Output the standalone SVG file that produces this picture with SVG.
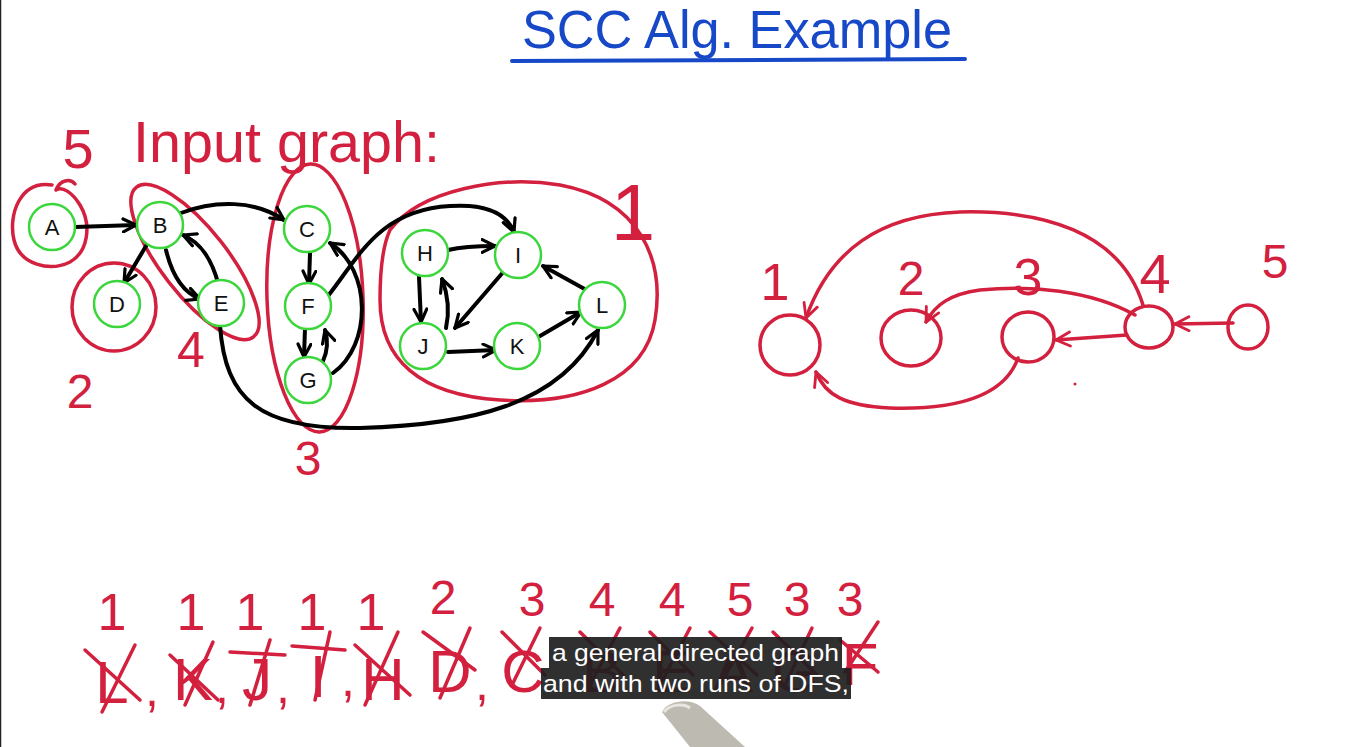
<svg xmlns="http://www.w3.org/2000/svg" width="1357" height="747" viewBox="0 0 1357 747">
<style>
.nd{fill:#fff;stroke:#3bd63b;stroke-width:2.5}
.lb{font-family:"Liberation Sans",Arial,sans-serif;font-size:22px;fill:#111;text-anchor:middle;dominant-baseline:central}
.e{fill:none;stroke:#000;stroke-width:4;stroke-linecap:round;stroke-linejoin:round}
.r{fill:none;stroke:#d3203e;stroke-width:3.5;stroke-linecap:round;stroke-linejoin:round}
.rt{font-family:"Liberation Sans",Arial,sans-serif;fill:#d3203e;text-anchor:middle}
.rs{font-family:"Liberation Sans",Arial,sans-serif;fill:#d3203e;text-anchor:start}
.x{stroke:#d3203e;stroke-width:3.5;stroke-linecap:round}
.sub{font-family:"Liberation Sans",Arial,sans-serif;font-size:24px;fill:#fff}
</style>
<defs>
<marker id="ab" viewBox="0 0 10 10" refX="9" refY="5" markerWidth="4" markerHeight="4" orient="auto" markerUnits="strokeWidth">
<path d="M1,1 L9,5 L1,9" fill="none" stroke="#000" stroke-width="2" stroke-linecap="round" stroke-linejoin="round"/>
</marker>
<marker id="ar" viewBox="0 0 10 10" refX="9" refY="5" markerWidth="5" markerHeight="5" orient="auto" markerUnits="strokeWidth">
<path d="M1,1 L9,5 L1,9" fill="none" stroke="#d3203e" stroke-width="1.6" stroke-linecap="round" stroke-linejoin="round"/>
</marker>
</defs>
<rect width="1357" height="747" fill="#fff"/>
<line x1="0.5" y1="0" x2="0.5" y2="747" stroke="#222" stroke-width="1.5"/>

<!-- title -->
<g id="title">
<text x="522" y="48" font-family="Liberation Sans,Arial,sans-serif" font-size="54" fill="#1748c8" textLength="430" lengthAdjust="spacingAndGlyphs">SCC Alg. Example</text>
<line x1="512" y1="61" x2="965" y2="59" stroke="#1748c8" stroke-width="4" stroke-linecap="round"/>
</g>

<g id="labels-left">
<text class="rt" x="78" y="168" font-size="56">5</text>
<text class="rs" x="133" y="162" font-size="58" textLength="307" lengthAdjust="spacingAndGlyphs">Input graph:</text>
<text class="rt" x="633" y="240" font-size="80">1</text>
<text class="rt" x="191" y="367" font-size="50">4</text>
<text class="rt" x="80" y="408" font-size="48">2</text>
<text class="rt" x="308" y="475" font-size="48">3</text>
</g>

<!-- SCC outlines -->
<g id="scc-outlines">
<path class="r" d="M52,185 C20,180 8,215 14,240 C20,265 50,272 70,262 C88,252 92,225 80,205 C72,192 62,186 56,190 C60,180 70,178 75,184"/>
<ellipse class="r" cx="114" cy="307" rx="42" ry="44"/>
<ellipse class="r" cx="195" cy="262" rx="95" ry="33" transform="rotate(52 195 262)"/>
<ellipse class="r" cx="315" cy="298" rx="48" ry="134" transform="rotate(-2 315 298)"/>
<path class="r" d="M390,230 C420,190 500,175 560,185 C640,200 665,260 655,320 C645,380 580,405 500,400 C420,395 380,360 380,300 C380,270 383,245 390,230"/>
</g>

<!-- connectors -->
<g id="connectors">
<path class="e" d="M75,227 L136,225" marker-end="url(#ab)"/>
<path class="e" d="M181,213 C215,200 255,200 284,220" marker-end="url(#ab)"/>
<path class="e" d="M146,246 L124,283" marker-end="url(#ab)"/>
<path class="e" d="M166,250 C172,275 182,292 200,299" marker-end="url(#ab)"/>
<path class="e" d="M218,283 C212,260 200,242 183,235" marker-end="url(#ab)"/>
<path class="e" d="M310,253 L309,284" marker-end="url(#ab)"/>
<path class="e" d="M305,328 L304,357" marker-end="url(#ab)"/>
<path class="e" d="M323,361 C328,350 328,340 325,330" marker-end="url(#ab)"/>
<path class="e" d="M333,373 C372,345 372,270 330,243" marker-end="url(#ab)"/>
<path class="e" d="M328,296 C360,255 380,210 450,206 C480,204 505,210 514,232" marker-end="url(#ab)"/>
<path class="e" d="M220,325 C225,400 260,430 360,428 C470,425 560,405 598,330" marker-end="url(#ab)"/>
<path class="e" d="M448,250 C465,246 480,246 495,246" marker-end="url(#ab)"/>
<path class="e" d="M419,277 L421,322" marker-end="url(#ab)"/>
<path class="e" d="M446,328 C450,310 448,295 442,279" marker-end="url(#ab)"/>
<path class="e" d="M505,270 L455,328" marker-end="url(#ab)"/>
<path class="e" d="M448,352 L496,350" marker-end="url(#ab)"/>
<path class="e" d="M540,336 L581,312" marker-end="url(#ab)"/>
<path class="e" d="M590,292 L543,266" marker-end="url(#ab)"/>
</g>

<!-- nodes -->
<g id="node-A"><circle class="nd" cx="52" cy="227" r="23"/><text class="lb" x="52" y="227">A</text></g>
<g id="node-B"><circle class="nd" cx="160" cy="225" r="23"/><text class="lb" x="160" y="225">B</text></g>
<g id="node-C"><circle class="nd" cx="307" cy="229" r="23"/><text class="lb" x="307" y="229">C</text></g>
<g id="node-D"><circle class="nd" cx="117" cy="304" r="23"/><text class="lb" x="117" y="304">D</text></g>
<g id="node-E"><circle class="nd" cx="221" cy="303" r="23"/><text class="lb" x="221" y="303">E</text></g>
<g id="node-F"><circle class="nd" cx="308" cy="306" r="23"/><text class="lb" x="308" y="306">F</text></g>
<g id="node-G"><circle class="nd" cx="308" cy="380" r="23"/><text class="lb" x="308" y="380">G</text></g>
<g id="node-H"><circle class="nd" cx="425" cy="253" r="23"/><text class="lb" x="425" y="253">H</text></g>
<g id="node-I"><circle class="nd" cx="518" cy="255" r="23"/><text class="lb" x="518" y="255">I</text></g>
<g id="node-J"><circle class="nd" cx="423" cy="346" r="23"/><text class="lb" x="423" y="346">J</text></g>
<g id="node-K"><circle class="nd" cx="517" cy="346" r="23"/><text class="lb" x="517" y="346">K</text></g>
<g id="node-L"><circle class="nd" cx="602" cy="305" r="23"/><text class="lb" x="602" y="305">L</text></g>

<!-- meta graph -->
<g id="meta-connectors">
<path class="r" d="M1143,305 C1120,230 1040,210 960,212 C880,215 830,250 806,318" marker-end="url(#ar)"/>
<path class="r" d="M1135,315 C1090,290 1030,285 980,290 C950,294 935,305 926,322" marker-end="url(#ar)"/>
<path class="r" d="M1127,335 L1056,340" marker-end="url(#ar)"/>
<path class="r" d="M1233,323 L1175,324" marker-end="url(#ar)"/>
<path class="r" d="M1018,358 C1005,395 960,410 890,408 C845,406 825,395 816,372" marker-end="url(#ar)"/>
<circle cx="1075" cy="384" r="1.5" fill="#d3203e"/>
</g>
<g id="meta-1"><ellipse class="r" cx="790" cy="345" rx="30" ry="30"/><text class="rt" x="775" y="300" font-size="52">1</text></g>
<g id="meta-2"><ellipse class="r" cx="911" cy="338" rx="30" ry="28"/><text class="rt" x="911" y="295" font-size="48">2</text></g>
<g id="meta-3"><ellipse class="r" cx="1028" cy="337" rx="26" ry="25"/><text class="rt" x="1028" y="295" font-size="52">3</text></g>
<g id="meta-4"><ellipse class="r" cx="1149" cy="327" rx="24" ry="21"/><text class="rt" x="1155" y="293" font-size="56">4</text></g>
<g id="meta-5"><ellipse class="r" cx="1248" cy="327" rx="20" ry="22"/><text class="rt" x="1275" y="278" font-size="48">5</text></g>

<!-- bottom order -->
<g id="order">
<text class="rt" x="112" y="630" font-size="52">1</text>
<text class="rt" x="191" y="630" font-size="52">1</text>
<text class="rt" x="250" y="630" font-size="52">1</text>
<text class="rt" x="312" y="630" font-size="52">1</text>
<text class="rt" x="371" y="630" font-size="52">1</text>
<text class="rt" x="443" y="614" font-size="48">2</text>
<text class="rt" x="532" y="616" font-size="48">3</text>
<text class="rt" x="602" y="616" font-size="48">4</text>
<text class="rt" x="672" y="616" font-size="48">4</text>
<text class="rt" x="740" y="616" font-size="48">5</text>
<text class="rt" x="797" y="616" font-size="48">3</text>
<text class="rt" x="850" y="616" font-size="48">3</text>

<text class="rt" x="112" y="703" font-size="60">L</text>
<text class="rt" x="193" y="700" font-size="60">K</text>
<text class="rt" x="257" y="700" font-size="60">J</text>
<text class="rt" x="318" y="697" font-size="60">I</text>
<text class="rt" x="383" y="700" font-size="60">H</text>
<text class="rt" x="450" y="692" font-size="60">D</text>
<text class="rt" x="523" y="692" font-size="60">C</text>
<text class="rt" x="602" y="692" font-size="60">B</text>
<text class="rt" x="672" y="692" font-size="60">E</text>
<text class="rt" x="733" y="692" font-size="60">A</text>
<text class="rt" x="795" y="692" font-size="60">G</text>
<text class="rt" x="860" y="685" font-size="60">F</text>
<line class="x" x1="85" y1="650" x2="140" y2="700"/><line class="x" x1="135" y1="645" x2="102" y2="712"/>
<text class="rt" x="152" y="706" font-size="50">,</text>
<line class="x" x1="170" y1="655" x2="218" y2="700"/><line class="x" x1="213" y1="642" x2="185" y2="705"/>
<text class="rt" x="222" y="703" font-size="50">,</text>
<line class="x" x1="230" y1="652" x2="285" y2="655"/><line class="x" x1="270" y1="640" x2="250" y2="705"/>
<text class="rt" x="283" y="703" font-size="50">,</text>
<line class="x" x1="292" y1="646" x2="345" y2="650"/><line class="x" x1="330" y1="632" x2="315" y2="700"/>
<text class="rt" x="348" y="696" font-size="50">,</text>
<line class="x" x1="355" y1="645" x2="410" y2="695"/><line class="x" x1="398" y1="632" x2="365" y2="705"/>
<line class="x" x1="423" y1="632" x2="475" y2="670"/><line class="x" x1="470" y1="628" x2="440" y2="698"/>
<text class="rt" x="482" y="700" font-size="50">,</text>
<line class="x" x1="502" y1="632" x2="545" y2="675"/><line class="x" x1="540" y1="628" x2="512" y2="685"/>
<line class="x" x1="580" y1="632" x2="623" y2="675"/><line class="x" x1="620" y1="628" x2="590" y2="685"/>
<line class="x" x1="650" y1="632" x2="693" y2="675"/><line class="x" x1="690" y1="628" x2="660" y2="685"/>
<line class="x" x1="710" y1="632" x2="757" y2="675"/><line class="x" x1="752" y1="628" x2="720" y2="685"/>
<line class="x" x1="773" y1="632" x2="817" y2="675"/><line class="x" x1="812" y1="628" x2="785" y2="685"/>
<line class="x" x1="840" y1="640" x2="878" y2="672"/><line class="x" x1="878" y1="622" x2="845" y2="672"/>
</g>

<!-- pen -->
<g id="pen">
<path d="M662,712 C668,700 690,698 700,706 L745,747 L690,747 Z" fill="#bdbab2"/>
<path d="M664,712 C670,704 684,703 690,708" fill="none" stroke="#e8e6e0" stroke-width="3"/>
</g>

<!-- subtitles -->
<g id="subtitles">
<rect x="549" y="637" width="293" height="31" fill="#1e1e1e" fill-opacity="0.92"/>
<rect x="541" y="668" width="310" height="31" fill="#1e1e1e" fill-opacity="0.92"/>
<text class="sub" x="552" y="661" textLength="287" lengthAdjust="spacingAndGlyphs">a general directed graph</text>
<text class="sub" x="543" y="692" textLength="306" lengthAdjust="spacingAndGlyphs">and with two runs of DFS,</text>
</g>
</svg>
